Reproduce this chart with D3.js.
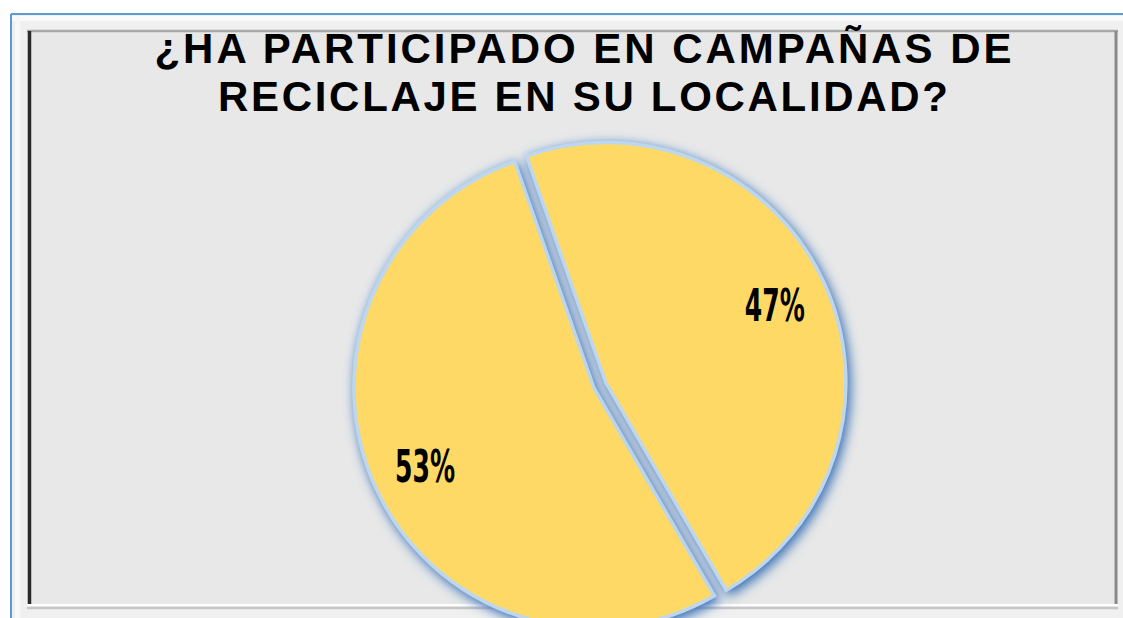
<!DOCTYPE html>
<html>
<head>
<meta charset="utf-8">
<script src="https://cdn.jsdelivr.net/npm/d3@7"></script>
<style>
  html, body { margin: 0; padding: 0; background: #ffffff; }
  svg { display: block; }
</style>
</head>
<body>
<svg id="chart" width="1123" height="618"></svg>
<script>
// ---- data ----
const titleLines = ["¿HA PARTICIPADO EN CAMPAÑAS DE", "RECICLAJE EN SU LOCALIDAD?"];
const categories = ["Sí", "No"];
const values = [47, 53];
const labels = ["47%", "53%"];
const explode = [13, 0];

// ---- layout ----
const W = 1123, H = 618;
const svg = d3.select("#chart");
const defs = svg.append("defs");

// frame
svg.append("rect").attr("x", 11).attr("y", 14).attr("width", W - 11).attr("height", H - 14).attr("fill", "#f0f0f0");
svg.append("line").attr("x1", 11).attr("x2", W).attr("y1", 18.5).attr("y2", 18.5).attr("stroke", "#fbfbfb").attr("stroke-width", 5);
svg.append("line").attr("x1", 17.5).attr("x2", 17.5).attr("y1", 16).attr("y2", H).attr("stroke", "#f8f8f8").attr("stroke-width", 5);
svg.append("line").attr("x1", 11).attr("x2", W).attr("y1", 14).attr("y2", 14).attr("stroke", "#5b9bd5").attr("stroke-width", 2);
svg.append("line").attr("x1", 11).attr("x2", 11).attr("y1", 14).attr("y2", H).attr("stroke", "#5b9bd5").attr("stroke-width", 2);

// inner panel
svg.append("rect").attr("x", 27).attr("y", 30).attr("width", 1091).attr("height", 576).attr("fill", "#e8e8e8");
svg.append("line").attr("x1", 27).attr("x2", 1118).attr("y1", 31).attr("y2", 31).attr("stroke", "#a9a9a9").attr("stroke-width", 2.5);
svg.append("line").attr("x1", 29.5).attr("x2", 29.5).attr("y1", 31).attr("y2", 605).attr("stroke", "#2a2a2a").attr("stroke-width", 3.5);
svg.append("line").attr("x1", 1116).attr("x2", 1116).attr("y1", 31).attr("y2", 606).attr("stroke", "#8a8a8a").attr("stroke-width", 3);
svg.append("line").attr("x1", 27).attr("x2", 1118).attr("y1", 605).attr("y2", 605).attr("stroke", "#ffffff").attr("stroke-width", 2);
svg.append("line").attr("x1", 27).attr("x2", 1118).attr("y1", 608).attr("y2", 608).attr("stroke", "#c6c6c6").attr("stroke-width", 2.5);

// title
const titleX = 583;
const titleBaselines = [63, 111];
const titleWidths = [857, 730];
svg.append("g").selectAll("text").data(titleLines).join("text")
  .attr("x", titleX)
  .attr("y", (d, i) => titleBaselines[i])
  .attr("text-anchor", "middle")
  .attr("textLength", (d, i) => titleWidths[i])
  .attr("lengthAdjust", "spacing")
  .attr("font-family", "'Liberation Sans', Arial, sans-serif")
  .attr("font-weight", "bold")
  .attr("font-size", 42)
  .attr("fill", "#000")
  .text(d => d);

// shadow / glow filter
const f = defs.append("filter").attr("id", "shadow").attr("x", "-20%").attr("y", "-20%").attr("width", "140%").attr("height", "140%");
f.append("feGaussianBlur").attr("in", "SourceAlpha").attr("stdDeviation", 6).attr("result", "blur");
f.append("feOffset").attr("in", "blur").attr("dx", 3).attr("dy", 4).attr("result", "off");
f.append("feFlood").attr("flood-color", "#2e6db4").attr("flood-opacity", 1).attr("result", "col");
f.append("feComposite").attr("in", "col").attr("in2", "off").attr("operator", "in").attr("result", "sh");
f.append("feGaussianBlur").attr("in", "SourceAlpha").attr("stdDeviation", 4).attr("result", "blur2");
f.append("feFlood").attr("flood-color", "#a9c9ea").attr("flood-opacity", 0.9).attr("result", "col2");
f.append("feComposite").attr("in", "col2").attr("in2", "blur2").attr("operator", "in").attr("result", "glow");
const fm = f.append("feMerge");
fm.append("feMergeNode").attr("in", "glow");
fm.append("feMergeNode").attr("in", "sh");
fm.append("feMergeNode").attr("in", "SourceGraphic");

// pie
const cx = 594, cy = 388, r = 240;
const startDeg = -19.3;
const pie = d3.pie().sort(null).value(d => d)
  .startAngle(startDeg * Math.PI / 180)
  .endAngle((startDeg + 360) * Math.PI / 180);
const arcs = pie(values);
const arc = d3.arc().innerRadius(0).outerRadius(r);
const labelArc = d3.arc().innerRadius(186).outerRadius(186);

function offset(d, i) {
  const a = (d.startAngle + d.endAngle) / 2;
  return [Math.sin(a) * explode[i], -Math.cos(a) * explode[i]];
}

const g = svg.append("g").attr("transform", `translate(${cx},${cy})`);
const order = [1, 0];
order.forEach(i => {
  const d = arcs[i];
  const [ox, oy] = offset(d, i);
  const sg = g.append("g").attr("transform", `translate(${ox},${oy})`);
  sg.append("path")
    .attr("d", arc(d))
    .attr("fill", "#ffd966")
    .attr("stroke", "#bdd7ee")
    .attr("stroke-width", 3.5)
    .attr("stroke-linejoin", "miter")
    .attr("filter", "url(#shadow)");
});
order.forEach(i => {
  const d = arcs[i];
  const [ox, oy] = offset(d, i);
  const [lx, ly] = labelArc.centroid(d);
  g.append("text")
    .attr("x", lx + ox)
    .attr("y", ly + oy)
    .attr("dy", "0.36em")
    .attr("text-anchor", "middle")
    .attr("textLength", 60)
    .attr("lengthAdjust", "spacingAndGlyphs")
    .attr("font-family", "'Liberation Sans Narrow', 'DejaVu Sans Condensed', sans-serif")
    .attr("font-weight", "bold")
    .attr("font-size", 45)
    .attr("fill", "#000")
    .text(labels[i]);
});
</script>
</body>
</html>
